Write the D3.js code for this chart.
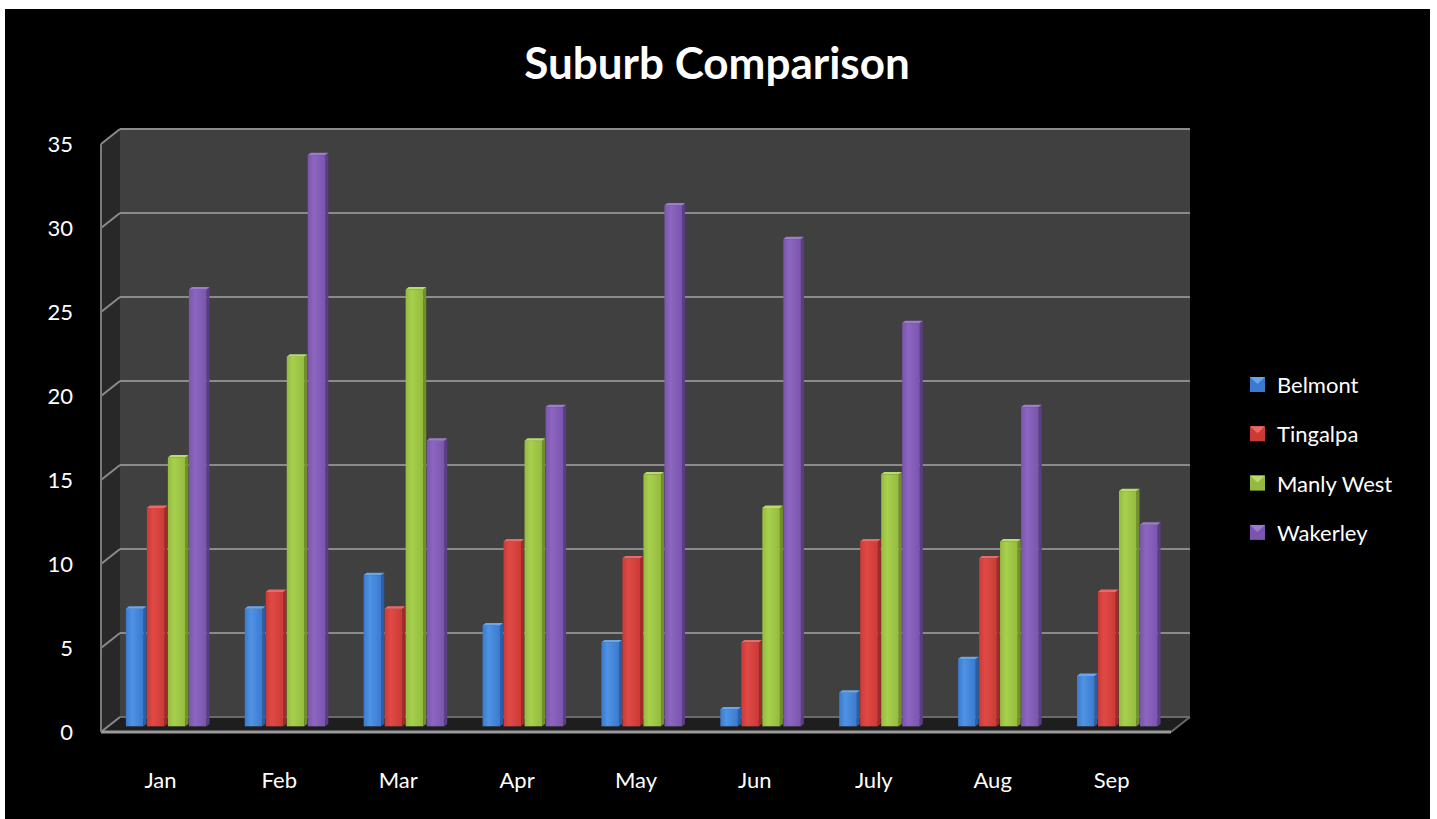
<!DOCTYPE html>
<html>
<head>
<meta charset="utf-8">
<script src="https://cdn.jsdelivr.net/npm/d3@7"></script>
<style>
html,body{margin:0;padding:0;background:#fff;}
svg{display:block;}
</style>
</head>
<body>
<script>
const categories = ["Jan","Feb","Mar","Apr","May","Jun","July","Aug","Sep"];
const seriesNames = ["Belmont","Tingalpa","Manly West","Wakerley"];
const belmont   = [7, 7, 9, 6, 5, 1, 2, 4, 3];
const tingalpa  = [13, 8, 7, 11, 10, 5, 11, 10, 8];
const manlyWest = [16, 22, 26, 17, 15, 13, 15, 11, 14];
const wakerley  = [26, 34, 17, 19, 31, 29, 24, 19, 12];
const yTicks = [0, 5, 10, 15, 20, 25, 30, 35];
const seriesValues = [belmont, tingalpa, manlyWest, wakerley];

const colors = [
  {light:"#4f93e3", mid:"#3a7ad0", dark:"#2a5fa8", top:"#6aa6ec"},
  {light:"#e04a46", mid:"#cc3a36", dark:"#a02a27", top:"#ea6a66"},
  {light:"#a8d04e", mid:"#94bb3e", dark:"#6f9128", top:"#b9dc6a"},
  {light:"#8c66c0", mid:"#7a55ad", dark:"#5b3d86", top:"#9d7ccd"}
];

const W = 1437, H = 819;
const svg = d3.select("body").append("svg").attr("width", W).attr("height", H);

// backgrounds
svg.append("rect").attr("width", W).attr("height", H).attr("fill", "#fff");
svg.append("rect").attr("x", 5).attr("y", 9).attr("width", 1425).attr("height", 810).attr("fill", "#000");

const defs = svg.append("defs");
colors.forEach((c, i) => {
  const g = defs.append("linearGradient").attr("id", "g" + i).attr("x1", "0").attr("x2", "1").attr("y1", "0").attr("y2", "0");
  g.append("stop").attr("offset", "0").attr("stop-color", c.mid);
  g.append("stop").attr("offset", "0.35").attr("stop-color", c.light);
  g.append("stop").attr("offset", "1").attr("stop-color", c.mid);
});

// 3D geometry (back plane coordinates + depth offset)
const DX = -19, DY = 15;
const x0 = d3.scaleBand().domain(categories).range([120, 1190]).paddingInner(0.29).paddingOuter(0.145);
const x1 = d3.scaleBand().domain(seriesNames).range([0, x0.bandwidth()]).padding(0.02);
const y = d3.scaleLinear().domain([0, 35]).range([717, 129]);
const xFront = d3.scaleBand().domain(categories).range([120 + DX, 1190 + DX]);

// walls
svg.append("rect").attr("x", 120).attr("y", y(35)).attr("width", 1070).attr("height", y(0) - y(35)).attr("fill", "#404040");
svg.append("polygon").attr("points", [[120, y(35)], [120, y(0)], [120 + DX, y(0) + DY], [120 + DX, y(35) + DY]].join(" ")).attr("fill", "#282828");
svg.append("polygon").attr("points", [[120, y(0)], [1190, y(0)], [1190 + DX, y(0) + DY], [120 + DX, y(0) + DY]].join(" ")).attr("fill", "#1e1e1e");

// gridlines
const gl = svg.append("g").attr("stroke", "#8a8a8a").attr("stroke-width", 2).attr("fill", "none");
yTicks.forEach(t => {
  if (t > 0) gl.append("line").attr("x1", 120).attr("x2", 1190).attr("y1", y(t)).attr("y2", y(t));
  gl.append("line").attr("x1", 120 + DX).attr("y1", y(t) + DY).attr("x2", 120).attr("y2", y(t));
});
gl.append("line").attr("x1", 120).attr("x2", 1190).attr("y1", y(0)).attr("y2", y(0)).attr("stroke", "#6a6a6a");
gl.append("line").attr("x1", 1190).attr("y1", y(0)).attr("x2", 1190 + DX).attr("y2", y(0) + DY).attr("stroke", "#6a6a6a");
// front axis lines
gl.append("line").attr("x1", 120 + DX).attr("x2", 1190 + DX).attr("y1", y(0) + DY).attr("y2", y(0) + DY).attr("stroke", "#9a9a9a").attr("stroke-width", 3);
gl.append("line").attr("x1", 120 + DX).attr("x2", 120 + DX).attr("y1", y(35) + DY).attr("y2", y(0) + DY).attr("stroke", "#7a7a7a");

// bars
const d1 = 0.46, d2 = 0.62;
const sideW = -DX * (d2 - d1), sideH = DY * (d2 - d1);
const bars = svg.append("g");
categories.forEach((cat, i) => {
  seriesNames.forEach((s, j) => {
    const v = seriesValues[j][i];
    const xb = x0(cat) + x1(s) + DX * d2;
    const fw = x1.bandwidth() - sideW;
    const yt = y(v) + DY * d2;
    const yb = y(0) + DY * d2;
    const c = colors[j];
    const g = bars.append("g");
    g.append("polygon").attr("points", [[xb + fw, yt], [xb + fw, yb], [xb + fw + sideW, yb - sideH], [xb + fw + sideW, yt - sideH]].join(" ")).attr("fill", c.dark);
    g.append("rect").attr("x", xb).attr("y", yt).attr("width", fw).attr("height", yb - yt).attr("fill", "url(#g" + j + ")");
    g.append("polygon").attr("points", [[xb, yt], [xb + fw, yt], [xb + fw + sideW, yt - sideH], [xb + sideW, yt - sideH]].join(" ")).attr("fill", c.top);
  });
});

// y axis labels
const font = "Lato, 'Open Sans', sans-serif";
svg.append("g").selectAll("text").data(yTicks).join("text")
  .attr("x", 73).attr("y", d => y(d) + DY).attr("dy", "0.36em")
  .attr("text-anchor", "end").attr("fill", "#fff")
  .attr("font-family", font).attr("font-size", 22).text(d => d);

// x axis labels
svg.append("g").selectAll("text").data(categories).join("text")
  .attr("x", d => xFront(d) + xFront.bandwidth() / 2).attr("y", 788)
  .attr("text-anchor", "middle").attr("fill", "#fff")
  .attr("font-family", font).attr("font-size", 22).text(d => d);

// title
svg.append("text").attr("x", 717).attr("y", 79).attr("text-anchor", "middle")
  .attr("fill", "#fff").attr("font-family", font).attr("font-weight", "bold")
  .attr("font-size", 44).text("Suburb Comparison");

// legend
const lg = svg.append("g");
seriesNames.forEach((s, j) => {
  const cy = 385 + j * 49.3;
  const c = colors[j];
  lg.append("rect").attr("x", 1250).attr("y", cy - 8).attr("width", 15).attr("height", 15).attr("fill", c.mid);
  lg.append("polygon").attr("points", [[1250, cy - 8], [1265, cy - 8], [1257.5, cy - 1]].join(" ")).attr("fill", c.top);
  lg.append("text").attr("x", 1277).attr("y", cy).attr("dy", "0.36em").attr("fill", "#fff")
    .attr("font-family", font).attr("font-size", 22).text(s);
});
</script>
</body>
</html>
